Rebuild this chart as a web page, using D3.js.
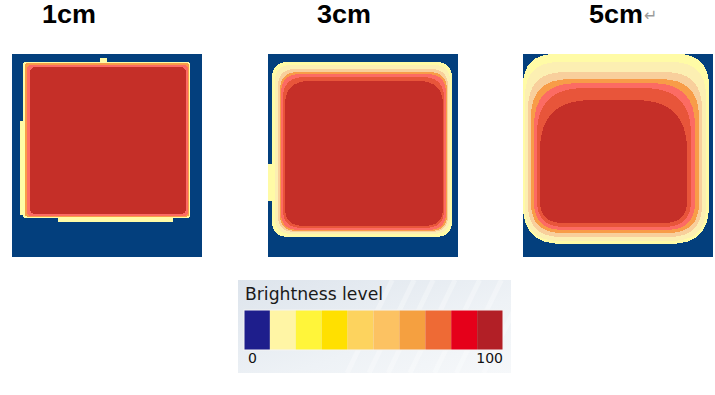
<!DOCTYPE html>
<html>
<head>
<meta charset="utf-8">
<script src="https://cdn.jsdelivr.net/npm/d3@7"></script>
<style>
  body { margin: 0; background: #fff; }
  svg { display: block; }
</style>
</head>
<body>
<div id="chart"></div>
<script>
// brightness maps for three source distances, drawn as nested iso-level regions

// panel titles
var panelLabels = ["1cm", "3cm", "5cm"];

// brightness classes used inside the maps (0 = background)
var heatLevels = ["bg", "pale", "cream", "peach", "orange", "pink", "redorange", "core"];
var heatColors = ["#033f7d", "#fffba6", "#fcefb2", "#f8cf9c", "#f89c48", "#fc6b63", "#e8553a", "#c52f28"];

// regions per map: [level, x0, y0, x1, y1, top corner, bottom corner] in sensor cells (map = 190 x 202 cells)
var map1cm = [
  [1, 11, 8, 178, 163, 2, 2],
  [1, 46, 159, 161, 167, 0, 0],
  [1, 8, 67, 14, 160, 0, 0],
  [1, 88, 4, 95, 10, 0, 0],
  [4, 13, 9, 177, 162, 3, 3],
  [5, 15, 11, 176, 161, 4, 4],
  [7, 18, 13, 174, 159, 6, 5]
];
var map3cm = [
  [1, 4, 8, 184, 182, 16, 16],
  [1, 0, 109, 8, 146, 0, 0],
  [2, 7, 11, 182, 179, 16, 16],
  [3, 10, 15, 180, 177, 17, 16],
  [4, 12, 18, 179, 176, 18, 16],
  [5, 13, 20, 178, 175, 19, 17],
  [6, 15, 23, 176, 173, 21, 18],
  [7, 17, 27, 175, 171, 24, 18]
];
var map5cm = [
  [1, 0, 0, 186, 189, 32, 38],
  [2, 2, 8, 183, 186, 34, 34],
  [3, 5, 18, 179, 182, 36, 32],
  [4, 8, 25, 176, 178, 38, 30],
  [5, 11, 29, 172, 175, 42, 28],
  [6, 14, 34, 168, 172, 46, 26],
  [7, 17, 46, 164, 168, 50, 22]
];
var mapData = [map1cm, map3cm, map5cm];

// legend scale
var legendTitle = "Brightness level";
var legendColors = ["#1e1e8c", "#fff5a5", "#fff53a", "#ffe000", "#fdd35e", "#fcc262", "#f5a040", "#ee6a35", "#e5001a", "#b21f26"];
var legendTicks = ["0", "100"];

(function(){
  var width = 715, height = 395;

  var svg = d3.select("#chart").append("svg")
    .attr("width", width)
    .attr("height", height);

  var colorScale = d3.scaleOrdinal()
    .domain(d3.range(heatLevels.length))
    .range(heatColors);

  // panel frames in the page
  var panelX = [12, 268, 523];
  var panelY = 54;
  var panelW = 190, panelH = 203;
  var titleX = [42, 317, 589];

  // rounded rectangle with separate top / bottom corner radius
  function regionPath(x0, y0, x1, y1, rt, rb){
    var p = d3.path();
    p.moveTo(x0 + rt, y0);
    p.lineTo(x1 - rt, y0);
    p.quadraticCurveTo(x1, y0, x1, y0 + rt);
    p.lineTo(x1, y1 - rb);
    p.quadraticCurveTo(x1, y1, x1 - rb, y1);
    p.lineTo(x0 + rb, y1);
    p.quadraticCurveTo(x0, y1, x0, y1 - rb);
    p.lineTo(x0, y0 + rt);
    p.quadraticCurveTo(x0, y0, x0 + rt, y0);
    p.closePath();
    return p.toString();
  }

  mapData.forEach(function(regions, i){
    var x = d3.scaleLinear().domain([0, 190]).range([panelX[i], panelX[i] + panelW]);
    var y = d3.scaleLinear().domain([0, 202]).range([panelY, panelY + panelH]);
    var g = svg.append("g").attr("class", "panel");

    g.append("rect")
      .attr("x", x(0)).attr("y", y(0))
      .attr("width", x(190) - x(0)).attr("height", y(202) - y(0))
      .attr("fill", colorScale(0));

    g.selectAll(".region")
      .data(regions)
      .enter()
      .append("path")
      .attr("class", "region")
      .attr("d", function(d){
        return regionPath(x(d[1]), y(d[2]), x(d[3]), y(d[4]), x(d[5]) - x(0), x(d[6]) - x(0));
      })
      .attr("shape-rendering", "crispEdges")
      .attr("fill", function(d){ return colorScale(d[0]); });

    // title
    svg.append("text")
      .attr("x", titleX[i]).attr("y", 23)
      .attr("font-family", "Liberation Sans, Arial, sans-serif")
      .attr("font-weight", "bold")
      .attr("font-size", 26)
      .attr("fill", "#000")
      .attr("textLength", 54)
      .attr("lengthAdjust", "spacingAndGlyphs")
      .text(panelLabels[i]);
  });

  // paragraph mark after the last title
  svg.append("text")
    .attr("x", 644).attr("y", 21)
    .attr("font-family", "DejaVu Sans, sans-serif")
    .attr("font-size", 16)
    .attr("fill", "#9a9a9a")
    .text("\u21B5");

  // legend box
  var lx = 238, ly = 280, lw = 273, lh = 93;
  var defs = svg.append("defs");
  var grad = defs.append("linearGradient").attr("id", "lgbg")
    .attr("x1", "0").attr("y1", "0").attr("x2", "1").attr("y2", "1");
  grad.append("stop").attr("offset", "0").attr("stop-color", "#dde4ec");
  grad.append("stop").attr("offset", "0.6").attr("stop-color", "#eef2f6");
  grad.append("stop").attr("offset", "1").attr("stop-color", "#f6f8fa");

  var lg = svg.append("g").attr("class", "legend");
  lg.append("rect")
    .attr("x", lx).attr("y", ly).attr("width", lw).attr("height", lh)
    .attr("fill", "url(#lgbg)");

  // faint light streaks in the legend background
  var streaks = [0.4, 0.48, 0.55, 0.63, 0.72, 0.8, 0.9];
  lg.selectAll(".streak")
    .data(streaks)
    .enter()
    .append("line")
    .attr("x1", function(d){ return lx + d * lw; })
    .attr("y1", ly + lh)
    .attr("x2", function(d){ return lx + d * lw + 45; })
    .attr("y2", ly)
    .attr("stroke", "#fff")
    .attr("stroke-opacity", 0.3)
    .attr("stroke-width", 5);

  lg.append("text")
    .attr("x", 245).attr("y", 300)
    .attr("font-family", "DejaVu Sans, sans-serif")
    .attr("font-size", 18)
    .attr("fill", "#1a1a1a")
    .attr("textLength", 138)
    .attr("lengthAdjust", "spacingAndGlyphs")
    .text(legendTitle);

  var lxScale = d3.scaleBand()
    .domain(d3.range(legendColors.length))
    .range([244, 503])
    .padding(0);

  lg.selectAll(".swatch")
    .data(legendColors)
    .enter()
    .append("rect")
    .attr("class", "swatch")
    .attr("x", function(d, i){ return lxScale(i); })
    .attr("y", 310)
    .attr("width", lxScale.bandwidth())
    .attr("height", 40)
    .attr("fill", function(d){ return d; });

  lg.append("rect")
    .attr("x", 244).attr("y", 310).attr("width", 259).attr("height", 40)
    .attr("fill", "none").attr("stroke", "#f4f4f4").attr("stroke-width", 1);

  lg.selectAll(".tick")
    .data(legendTicks)
    .enter()
    .append("text")
    .attr("x", function(d, i){ return i === 0 ? 248 : 503; })
    .attr("y", 363)
    .attr("text-anchor", function(d, i){ return i === 0 ? "start" : "end"; })
    .attr("font-family", "DejaVu Sans, sans-serif")
    .attr("font-size", 14)
    .attr("fill", "#111")
    .text(function(d){ return d; });
})();
</script>
</body>
</html>
